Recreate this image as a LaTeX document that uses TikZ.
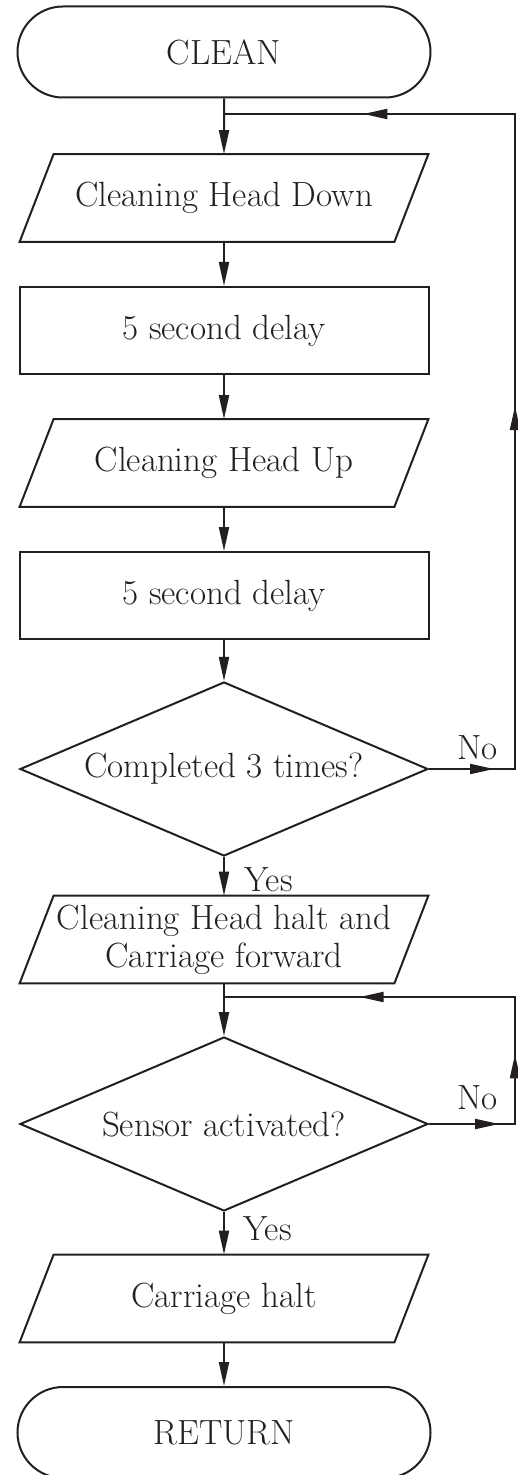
\documentclass[tikz,border=0pt]{standalone}
\usetikzlibrary{shapes.geometric,shapes.misc,arrows.meta,decorations.markings}

\definecolor{ink}{RGB}{35,31,32}

\begin{document}
\begin{tikzpicture}
[
	x=0.5pt, y=-0.5pt,
	>={Triangle[length=12pt,width=5pt]},
	every node/.style={font=\fontsize{17.5}{19}\selectfont, text=ink},
	boxline/.style={draw=ink, line width=1pt},
	terminal/.style={rounded rectangle, boxline, minimum width=206.5pt, minimum height=45.5pt, inner sep=0pt},
	iobox/.style={rectangle, minimum width=187pt, minimum height=43.5pt, inner sep=0pt, align=center,
		append after command={\pgfextra{\draw[boxline]
			([xshift=-8.5pt]\tikzlastnode.south west) -- ([xshift=8.5pt]\tikzlastnode.north west) --
			([xshift=8.5pt]\tikzlastnode.north east) -- ([xshift=-8.5pt]\tikzlastnode.south east) -- cycle;}}},
	procbox/.style={rectangle, boxline, minimum width=204.5pt, minimum height=43.5pt},
	decision/.style={diamond, aspect=2.35, boxline, minimum width=204pt, minimum height=87pt, inner sep=0pt},
	lbl/.style={anchor=west, inner sep=0pt},
	flow/.style={boxline, ->},
	backflow/.style n args={3}{boxline, postaction={decorate}, decoration={markings,
		mark=at position #1 with {\arrow{>}},
		mark=at position #2 with {\arrow{>}},
		mark=at position #3 with {\arrow{>}}}}
]

	\useasboundingbox (0,0) rectangle (518,1475);

	% boxes
	\node[terminal] (clean) at (224,52) {CLEAN};
	\node[iobox] (headdown) at (224,198) {Cleaning Head Down};
	\node[procbox] (delayA) at (224,330.5) {5 second delay};
	\node[iobox] (headup) at (224,463) {Cleaning Head Up};
	\node[procbox] (delayB) at (224,595.5) {5 second delay};
	\node[decision] (thrice) at (224,769) {Completed 3 times?};
	\node[iobox] (haltfwd) at (224,939.5) {Cleaning Head halt and\\Carriage forward};
	\node[decision] (sensor) at (224,1124) {Sensor activated?};
	\node[iobox] (carhalt) at (224,1298.5) {Carriage halt};
	\node[terminal] (ret) at (224,1432.5) {RETURN};

	\node[lbl] (noA) at (457,748) {No};
	\node[lbl] (yesA) at (244,880) {Yes};
	\node[lbl] (noB) at (457,1098) {No};
	\node[lbl] (yesB) at (243,1229) {Yes};

	% main flow
	\draw[flow] (clean) -- (headdown);
	\draw[flow] (headdown) -- (delayA);
	\draw[flow] (delayA) -- (headup);
	\draw[flow] (headup) -- (delayB);
	\draw[flow] (delayB) -- (thrice);
	\draw[flow] (thrice) -- (haltfwd);
	\draw[flow] (haltfwd) -- (sensor);
	\draw[flow] (sensor) -- (carhalt);
	\draw[flow] (carhalt) -- (ret);

	% loops back
	\coordinate (jA) at (224,114);
	\coordinate (cornerA) at (515,114);
	\draw[backflow={0.063}{0.435}{0.865}] (thrice.east) -- (thrice.east -| cornerA) -- (cornerA) -- (jA);

	\coordinate (jB) at (224,997);
	\coordinate (cornerB) at (515,997);
	\draw[backflow={0.139}{0.309}{0.731}] (sensor.east) -- (sensor.east -| cornerB) -- (cornerB) -- (jB);

\end{tikzpicture}
\end{document}
